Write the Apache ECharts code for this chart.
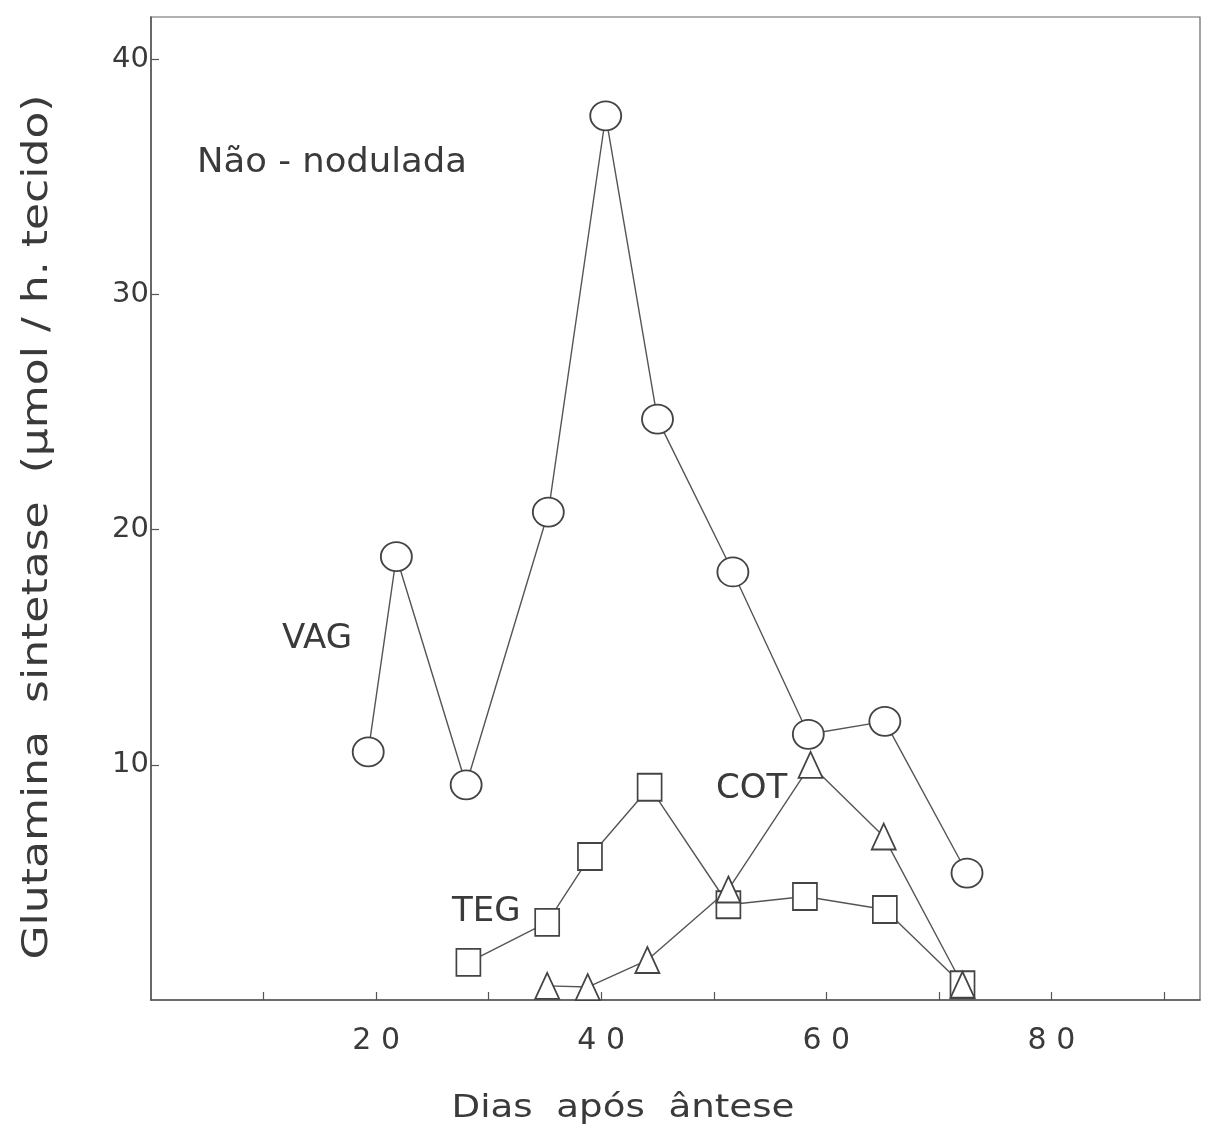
<!DOCTYPE html>
<html>
<head>
<meta charset="utf-8">
<script src="https://cdn.jsdelivr.net/npm/echarts@6/dist/echarts.min.js"></script>
<style>
html,body{margin:0;padding:0;background:#fff;}
#chart{width:1213px;height:1131px;}
</style>
</head>
<body>
<div id="chart"></div>
<script>
// Data (x = days after anthesis, y = activity)
const vagDays   = [19.3, 21.8, 28.0, 35.3, 40.4, 45.0, 51.7, 58.4, 65.2, 72.5];
const vagValues = [10.55, 18.85, 9.15, 20.75, 37.6, 24.7, 18.2, 11.3, 11.85, 5.4];

const tegDays   = [28.2, 35.2, 39.0, 44.3, 51.3, 58.1, 65.2, 72.1];
const tegValues = [1.6, 3.3, 6.1, 9.05, 4.05, 4.4, 3.85, 0.65];

const cotDays   = [35.2, 38.8, 44.1, 51.3, 58.6, 65.1, 72.1];
const cotValues = [0.6, 0.55, 1.7, 4.7, 10.0, 6.95, 0.65];

const xTickLabels = [20, 40, 60, 80];
const yTickLabels = [10, 20, 30, 40];

const xTitle = 'Dias  após  ântese';
const yTitle = 'Glutamina  sintetase  (µmol / h. tecido)';
const panelTitle = 'Não - nodulada';

const pair = (xs, ys) => xs.map((x, i) => [x, ys[i]]);

const FONT = 'DejaVu Sans';
const INK = '#3a3a3a';

// measure text to stretch letter-spaced titles to the reference width
const mctx = document.createElement('canvas').getContext('2d');
function widthOf(text, px) { mctx.font = px + 'px "DejaVu Sans"'; return mctx.measureText(text).width; }
function stretched(text, px, targetWidth, x, y, rot) {
  const s = targetWidth / widthOf(text, px);
  return {
    type: 'text', x: x, y: y, rotation: rot || 0, scaleX: s, scaleY: 1,
    style: { text: text, font: px + 'px "DejaVu Sans"', fill: INK, textAlign: 'center', textVerticalAlign: 'middle' }
  };
}

const chart = echarts.init(document.getElementById('chart'));

function seriesOf(name, xs, ys, symbol, size) {
  return {
    name: name,
    type: 'line',
    data: pair(xs, ys),
    symbol: symbol,
    symbolSize: size,
    showAllSymbol: true,
    lineStyle: { color: '#555', width: 1.4 },
    itemStyle: { color: '#fff', borderColor: '#444', borderWidth: 1.8 },
    emphasis: { disabled: true },
    animation: false,
    z: 3
  };
}

chart.setOption({
  animation: false,
  backgroundColor: '#fff',
  grid: {
    left: 151, right: 13, top: 17, bottom: 131,
    show: true, borderColor: '#666', borderWidth: 1.2, backgroundColor: 'transparent'
  },
  xAxis: {
    type: 'value',
    min: 0, max: 93.2, interval: 10,
    axisLine: { show: true, onZero: false, lineStyle: { color: '#555', width: 1.5 } },
    axisTick: { show: true, inside: true, length: 8, lineStyle: { color: '#555', width: 1.2 } },
    splitLine: { show: false },
    axisLabel: {
      margin: 26,
      showMinLabel: false, showMaxLabel: false,
      fontFamily: FONT, fontSize: 30, color: INK,
      formatter: v => xTickLabels.includes(Math.round(v)) && Math.abs(v - Math.round(v)) < 1e-6 ? String(Math.round(v)).split('').join(' ') : ''
    }
  },
  yAxis: {
    type: 'value',
    min: 0, max: 41.8, interval: 10,
    axisLine: { show: true, onZero: false, lineStyle: { color: '#555', width: 1.5 } },
    axisTick: { show: true, inside: true, length: 8, lineStyle: { color: '#555', width: 1.2 } },
    splitLine: { show: false },
    axisLabel: {
      margin: 2,
      showMinLabel: false, showMaxLabel: false,
      fontFamily: FONT, fontSize: 29, color: INK,
      formatter: v => yTickLabels.includes(Math.round(v)) && Math.abs(v - Math.round(v)) < 1e-6 ? String(v) : ''
    }
  },
  graphic: [
    stretched(panelTitle, 33, 270, 332, 163, 0),
    { type: 'text', left: 282, top: 622, style: { text: 'VAG', font: '34px "DejaVu Sans"', fill: INK } },
    { type: 'text', left: 452, top: 895, style: { text: 'TEG', font: '34px "DejaVu Sans"', fill: INK } },
    { type: 'text', left: 716, top: 772, style: { text: 'COT', font: '34px "DejaVu Sans"', fill: INK } },
    stretched(xTitle, 32, 343, 623, 1109, 0),
    stretched(yTitle, 35, 865, 38, 527, Math.PI / 2)
  ],
  series: [
    seriesOf('VAG', vagDays, vagValues, 'circle', [31, 29]),
    seriesOf('TEG', tegDays, tegValues, 'rect', [24, 27]),
    seriesOf('COT', cotDays, cotValues, 'triangle', [24, 26])
  ]
});
</script>
</body>
</html>
